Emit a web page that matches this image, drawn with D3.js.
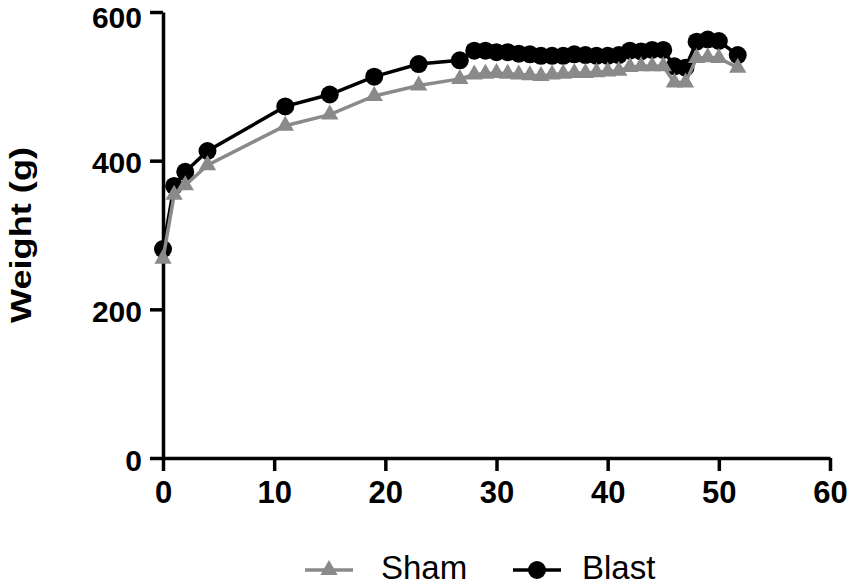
<!DOCTYPE html>
<html>
<head>
<script src="https://d3js.org/d3.v7.min.js"></script>
<style>
  body { margin: 0; background: #fff; }
  svg { display: block; }
  text { font-family: "Liberation Sans", Arial, sans-serif; }
</style>
</head>
<body>
<script>
// days since start, and group mean weights (g)
var days  = [0, 1, 2, 4, 11, 15, 19, 23, 26.7, 28, 29, 30, 31, 32, 33, 34, 35, 36, 37, 38, 39, 40, 41, 42, 43, 44, 45, 46, 47, 48, 49, 50, 51.7];
var sham  = [268, 354, 367, 394, 447, 462, 487, 501, 510, 516, 517, 518, 517, 516, 515, 514, 516, 517, 518, 518, 519, 520, 521, 526, 527, 527, 527, 505, 505, 538, 539, 538, 525];
var blast = [281, 366, 385, 413, 473, 489, 513, 530, 535, 548, 548, 546, 546, 544, 543, 541, 541, 541, 543, 542, 541, 541, 542, 548, 547, 549, 549, 527, 525, 560, 563, 561, 542];
var xTicks = [0, 10, 20, 30, 40, 50, 60];
var yTicks = [0, 200, 400, 600];

var width = 850, height = 586;
var grey = "#8a8a8a";

var svg = d3.select("body").append("svg")
    .attr("width", width)
    .attr("height", height);

var x = d3.scaleLinear().domain([0, 60]).range([163, 830]);
var y = d3.scaleLinear().domain([0, 600]).range([458, 12]);

// axes
var xAxis = svg.append("g")
    .attr("transform", "translate(0," + y(0) + ")")
    .call(d3.axisBottom(x).tickValues(xTicks).tickSize(13).tickSizeOuter(0).tickPadding(10));
var yAxis = svg.append("g")
    .attr("transform", "translate(" + x(0) + ",0)")
    .call(d3.axisLeft(y).tickValues(yTicks).tickSize(13).tickSizeOuter(0).tickPadding(8));

[xAxis, yAxis].forEach(function(a) {
    a.select(".domain").attr("stroke", "#000").attr("stroke-width", 3.5);
    a.selectAll(".tick line").attr("stroke", "#000").attr("stroke-width", 3.5);
    a.selectAll(".tick text")
        .attr("fill", "#000")
        .style("font-weight", "bold");
});
xAxis.selectAll(".tick text").style("font-size", "31px");
// top label nudged down a little so it stays inside the page
yAxis.selectAll(".tick text").style("font-size", "30px")
    .attr("dy", function(d) { return d == 600 ? "0.5em" : "0.4em"; });

svg.append("text")
    .attr("transform", "translate(31,235) rotate(-90)")
    .attr("text-anchor", "middle")
    .attr("textLength", 176)
    .attr("lengthAdjust", "spacingAndGlyphs")
    .style("font-size", "30px")
    .style("font-weight", "bold")
    .text("Weight (g)");

var line = d3.line()
    .x(function(d) { return x(d[0]); })
    .y(function(d) { return y(d[1]); });

var blastPts = days.map(function(d, i) { return [d, blast[i]]; });
var shamPts = days.map(function(d, i) { return [d, sham[i]]; });

var tri = d3.symbol().type(d3.symbolTriangle).size(130);

// blast first, sham drawn over it
svg.append("path")
    .attr("d", line(blastPts))
    .attr("fill", "none")
    .attr("stroke", "#000")
    .attr("stroke-width", 3.5);
svg.selectAll("circle.blast")
    .data(blastPts)
    .enter().append("circle")
    .attr("class", "blast")
    .attr("cx", function(d) { return x(d[0]); })
    .attr("cy", function(d) { return y(d[1]); })
    .attr("r", 9)
    .attr("fill", "#000");

svg.append("path")
    .attr("d", line(shamPts))
    .attr("fill", "none")
    .attr("stroke", grey)
    .attr("stroke-width", 3.5);
svg.selectAll("path.sham")
    .data(shamPts)
    .enter().append("path")
    .attr("class", "sham")
    .attr("d", tri)
    .attr("transform", function(d) { return "translate(" + x(d[0]) + "," + y(d[1]) + ")"; })
    .attr("fill", grey);

// legend
var legend = [
    { name: "Sham", color: grey, x: 305, tx: 381, shape: "tri" },
    { name: "Blast", color: "#000", x: 513, tx: 582, shape: "circle" }
];
var lg = svg.selectAll("g.legend")
    .data(legend)
    .enter().append("g")
    .attr("class", "legend");
lg.append("line")
    .attr("x1", function(d) { return d.x; })
    .attr("x2", function(d) { return d.x + 48; })
    .attr("y1", 570).attr("y2", 570)
    .attr("stroke", function(d) { return d.color; })
    .attr("stroke-width", 3.5);
lg.each(function(d) {
    var g = d3.select(this);
    if (d.shape == "tri") {
        g.append("path")
            .attr("d", tri)
            .attr("transform", "translate(" + (d.x + 24) + ",570)")
            .attr("fill", d.color);
    } else {
        g.append("circle")
            .attr("cx", d.x + 24).attr("cy", 570).attr("r", 9)
            .attr("fill", d.color);
    }
});
lg.append("text")
    .attr("x", function(d) { return d.tx; })
    .attr("y", 579)
    .style("font-size", "33px")
    .attr("fill", "#000")
    .text(function(d) { return d.name; });
</script>
</body>
</html>
